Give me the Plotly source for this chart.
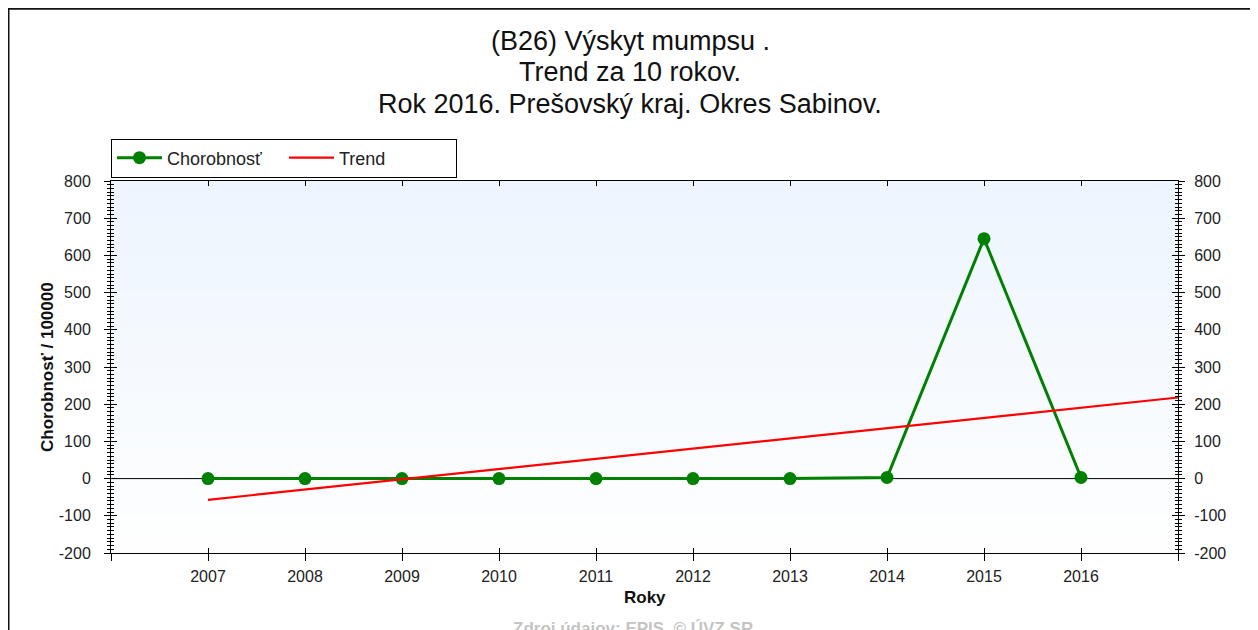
import plotly.graph_objects as go

# ---- data ----
years = [2007, 2008, 2009, 2010, 2011, 2012, 2013, 2014, 2015, 2016]
chorobnost = [0, 0, 0, 0, 0, 0, 0, 3, 645, 3]
trend_x = [2007, 2017]
trend_y = [-57, 218]
x_tick_vals = [2006, 2007, 2008, 2009, 2010, 2011, 2012, 2013, 2014, 2015, 2016, 2017]
x_tick_text = ["", "2007", "2008", "2009", "2010", "2011", "2012", "2013", "2014", "2015", "2016", ""]
y_tick_vals = [-200, -100, 0, 100, 200, 300, 400, 500, 600, 700, 800]
y_tick_text = ["-200", "-100", "0", "100", "200", "300", "400", "500", "600", "700", "800"]
y_range = [-200, 800]
x_range = [2006, 2017]

title_lines = ["(B26) Výskyt mumpsu .", "Trend za 10 rokov.", "Rok 2016. Prešovský kraj. Okres Sabinov."]
y_title = "Chorobnosť / 100000"
x_title = "Roky"
source_text = "Zdroj údajov: EPIS, © ÚVZ SR"

FONT = "Liberation Sans, Arial, sans-serif"
W, H = 1258, 630
OFF = 8  # page body margin: reference pixel = figure pixel + OFF
# plot area in reference pixels: x 111..1178, y 181..553
PL, PR, PT, PB = 111 - OFF, 1178 - OFF, 181 - OFF, 553 - OFF
ML, MR, MT, MB = PL, W - PR, PT, H - PB
PW, PH = PR - PL, PB - PT


def px_to_xp(px):
    return (px - OFF - PL) / PW


def py_to_yp(py):
    return (PB - (py - OFF)) / PH


fig = go.Figure()

fig.add_trace(go.Scatter(
    x=years, y=chorobnost, name="Chorobnosť", mode="lines+markers",
    line=dict(color="#008000", width=3),
    marker=dict(color="#008000", size=13, symbol="circle"),
))
fig.add_trace(go.Scatter(
    x=trend_x, y=trend_y, name="Trend", mode="lines",
    line=dict(color="#ff0000", width=2.2),
))

# invisible helper traces so overlay axes are registered
for xa, ya in [("x2", "y2"), ("x3", "y3"), ("x", "y4")]:
    fig.add_trace(go.Scatter(x=[], y=[], xaxis=xa, yaxis=ya, showlegend=False, hoverinfo="skip"))

tickfont = dict(family=FONT, size=16, color="#222222")

# gradient background
n = 40
for i in range(n):
    t = i / n
    r = int(237 + (255 - 237) * t)
    g = int(245 + (255 - 245) * t)
    b = int(254 + (255 - 254) * t)
    fig.add_shape(type="rect", xref="x domain", yref="y domain",
                  x0=0, x1=1, y0=1 - (i + 1) / n, y1=1 - i / n + 0.001,
                  line=dict(width=0), fillcolor=f"rgb({r},{g},{b})", layer="below")

# outer frame
fig.add_shape(type="rect", xref="paper", yref="paper",
              x0=px_to_xp(8.5), x1=1.5, y0=-0.6, y1=py_to_yp(8.8),
              line=dict(color="#111111", width=2), fillcolor="rgba(0,0,0,0)", layer="above")

common_y = dict(range=y_range, tickvals=y_tick_vals, ticktext=y_tick_text, showgrid=False,
                zeroline=False, tickcolor="black", tickwidth=1, fixedrange=True)

fig.update_layout(
    width=W, height=H,
    margin=dict(l=ML, r=MR, t=MT, b=MB, pad=0),
    paper_bgcolor="white", plot_bgcolor="white",
    font=dict(family=FONT, color="#222222"),
    showlegend=True,
    legend=dict(orientation="h", x=0, xanchor="left", y=py_to_yp(158), yanchor="middle",
                bordercolor="black", borderwidth=1, bgcolor="white",
                font=dict(family=FONT, size=18, color="#222222"),
                itemwidth=45, entrywidth=112, entrywidthmode="pixels",
                tracegroupgap=0),
    xaxis=dict(range=x_range, tickvals=x_tick_vals, ticktext=x_tick_text,
               ticks="outside", ticklen=7, tickwidth=1, tickcolor="black",
               showline=True, linecolor="black", linewidth=1, showgrid=False, zeroline=False,
               tickfont=tickfont, ticklabelstandoff=2, anchor="y", fixedrange=True),
    xaxis2=dict(range=x_range, tickvals=x_tick_vals, overlaying="x", side="bottom", anchor="y",
                ticks="inside", ticklen=5, tickwidth=1, tickcolor="black",
                showticklabels=False, showline=False, showgrid=False, zeroline=False),
    xaxis3=dict(range=x_range, tickvals=x_tick_vals, overlaying="x", side="top", anchor="y",
                ticks="inside", ticklen=5, tickwidth=1, tickcolor="black",
                showticklabels=False, showline=True, linecolor="black", linewidth=1,
                showgrid=False, zeroline=False),
    yaxis=dict(**common_y, side="left", ticks="outside", ticklen=6,
               minor=dict(dtick=10, ticks="outside", ticklen=3, tickcolor="black", showgrid=False),
               showline=True, linecolor="black", linewidth=1,
               tickfont=tickfont, ticklabelstandoff=10, anchor="x"),
    yaxis2=dict(**common_y, side="left", overlaying="y", anchor="x", ticks="inside", ticklen=6,
                minor=dict(dtick=10, ticks="inside", ticklen=3, tickcolor="black", showgrid=False),
                showticklabels=False, showline=False),
    yaxis3=dict(**common_y, side="right", overlaying="y", anchor="x", ticks="outside", ticklen=6,
                minor=dict(dtick=10, ticks="outside", ticklen=3, tickcolor="black", showgrid=False),
                showline=True, linecolor="black", linewidth=1,
                tickfont=tickfont, ticklabelstandoff=6),
    yaxis4=dict(**common_y, side="right", overlaying="y", anchor="x", ticks="inside", ticklen=6,
                minor=dict(dtick=10, ticks="inside", ticklen=3, tickcolor="black", showgrid=False),
                showticklabels=False, showline=False),
)

# zero line across the plot (uses the y scale)
fig.add_hline(y=0, line=dict(color="black", width=1), layer="below")

# title lines
for line, py in zip(title_lines, [41, 72, 104]):
    fig.add_annotation(text=line, xref="paper", yref="paper", x=px_to_xp(630), y=py_to_yp(py),
                       xanchor="center", yanchor="middle", showarrow=False,
                       font=dict(family=FONT, size=27, color="#111111"))

fig.add_annotation(text=f"<b>{y_title}</b>", xref="paper", yref="paper",
                   x=px_to_xp(47), y=0.5, xanchor="center", yanchor="middle",
                   textangle=-90, showarrow=False, font=dict(family=FONT, size=17, color="#111111"))
fig.add_annotation(text=f"<b>{x_title}</b>", xref="paper", yref="paper",
                   x=0.5, y=py_to_yp(597), xanchor="center", yanchor="middle",
                   showarrow=False, font=dict(family=FONT, size=17, color="#111111"))
fig.add_annotation(text=f"<b>{source_text}</b>", xref="paper", yref="paper",
                   x=px_to_xp(633), y=py_to_yp(628), xanchor="center", yanchor="middle",
                   showarrow=False, font=dict(family=FONT, size=17, color="#c4c4c4"))

fig.write_html("out.html")
